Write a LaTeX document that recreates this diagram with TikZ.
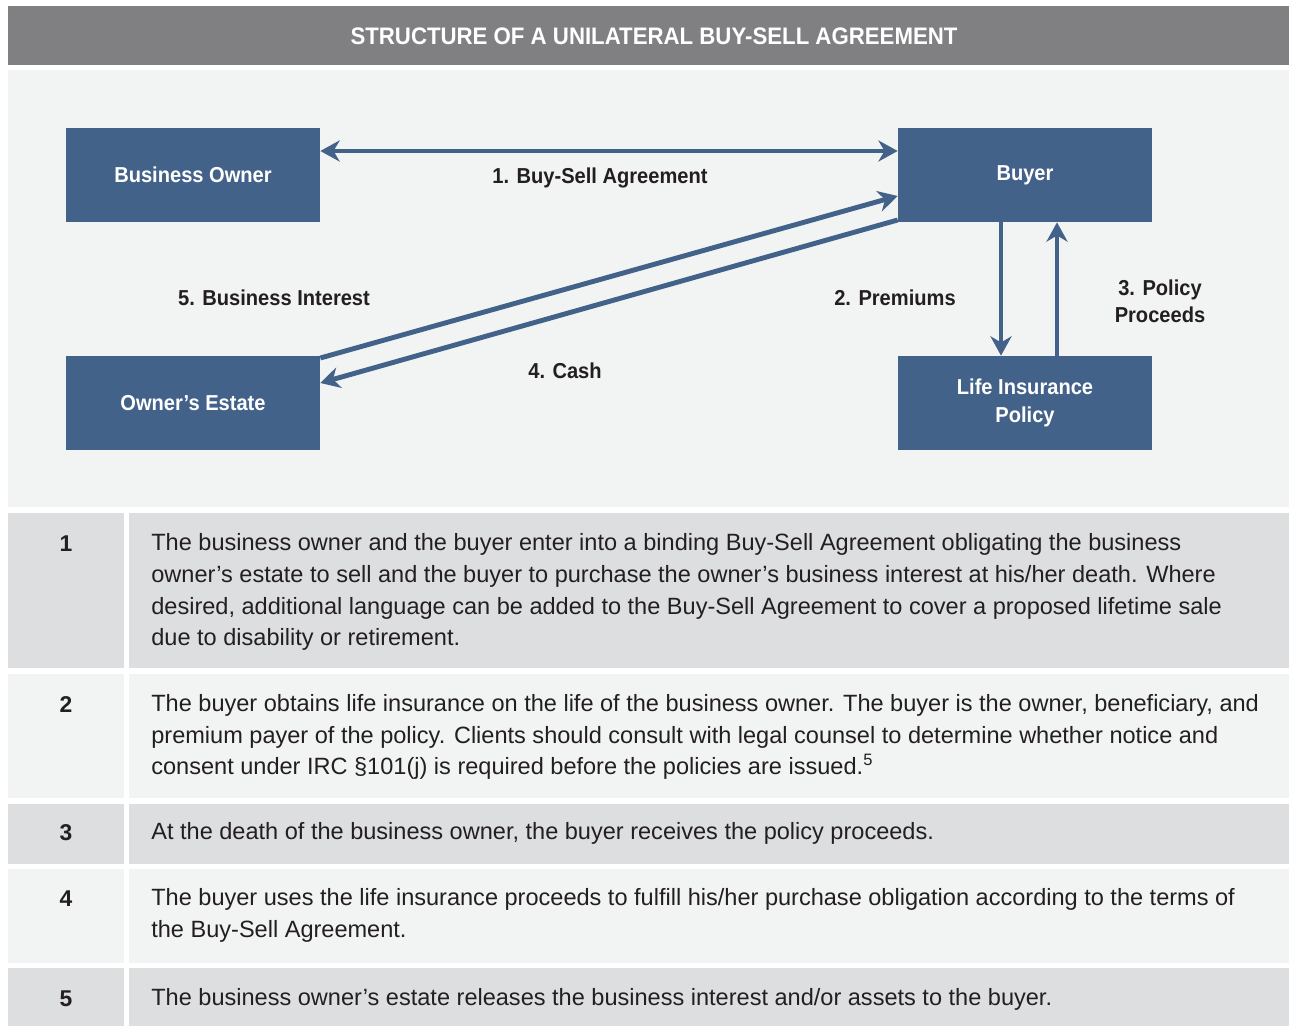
\documentclass[tikz,border=0pt]{standalone}
\usepackage{fontspec}
\setmainfont{Liberation Sans}
\newfontfamily\narrowfont[FakeStretch=0.93]{Liberation Sans}
\usetikzlibrary{calc}
\usetikzlibrary{arrows.meta}
\definecolor{headgray}{RGB}{128,128,130}
\definecolor{panelgray}{RGB}{242,244,243}
\definecolor{boxblue}{RGB}{67,98,138}
\definecolor{rowdark}{RGB}{221,222,224}
\definecolor{rowlight}{RGB}{242,243,243}
\definecolor{inkblack}{RGB}{35,31,32}
\tikzset{
    >={Stealth[length=11pt, width=12pt, inset=3.5pt]},
    box/.style={fill=boxblue, minimum width=5.08cm, minimum height=1.88cm, inner sep=0pt, text=white, align=center, font=\narrowfont\bfseries\fontsize{12.3}{16.4}\selectfont},
    flow/.style={draw=boxblue, line width=2.8pt, ->},
    lbl/.style={text=inkblack, align=center, inner sep=0pt, font=\narrowfont\bfseries\fontsize{12.3}{15.3}\selectfont},
    num/.style={text=inkblack, inner sep=0pt, font=\bfseries\fontsize{13}{18}\selectfont},
    desc/.style={text=inkblack, anchor=west, align=left, inner sep=0pt, font=\fontsize{13.4}{18.14}\selectfont}
}
\begin{document}
\begin{tikzpicture}[x=0.02cm, y=-0.02cm]
        \useasboundingbox (0,0) rectangle (1290,1026);
        %HEADER
        \fill[headgray] (8,6) rectangle (1289,65);
        \node[text=white, font=\narrowfont\bfseries\fontsize{13.6}{16}\selectfont] (title) at (654,36) {STRUCTURE OF A UNILATERAL BUY-SELL AGREEMENT};
        %PANEL
        \fill[panelgray] (8,70) rectangle (1289,507);
        %KOORDINAT
        \coordinate (agree) at (0,151);
        \coordinate (interest) at (0,358);
        \coordinate (interestend) at (0,196);
        \coordinate (cash) at (0,220);
        \coordinate (cashend) at (0,383);
        \coordinate (prem) at (1001,0);
        \coordinate (proc) at (1057,0);
        %BOXES
        \node[box] (owner) at (193,175) {Business Owner};
        \node[box] (buyer) at (1025,175) {Buyer};
        \node[box] (estate) at (193,403) {Owner’s Estate};
        \node[box] (policy) at (1025,403) {Life Insurance\\Policy};
        %ARROWS
        \draw[flow, <->] (owner.east |- agree) -- (buyer.west |- agree);
        \draw[flow] (estate.east |- interest) -- (buyer.west |- interestend);
        \draw[flow] (buyer.west |- cash) -- (estate.east |- cashend);
        \draw[flow] (buyer.south -| prem) -- (policy.north -| prem);
        \draw[flow] (policy.north -| proc) -- (buyer.south -| proc);
        %LABELS
        \node[lbl] (agreelbl) at (600,178) {1. Buy-Sell Agreement};
        \node[lbl] (premlbl) at (895,298) {2. Premiums};
        \node[lbl] (proclbl) at (1160,301) {3. Policy\\Proceeds};
        \node[lbl] (cashlbl) at (565,371) {4. Cash};
        \node[lbl] (interestlbl) at (274,298) {5. Business Interest};
        %TABLE
        \foreach \top/\bot/\col in {513/668/rowdark, 674/798/rowlight, 804/864/rowdark, 869/963/rowlight, 968/1026/rowdark}{
            \fill[\col] (8,\top) rectangle (124,\bot);
            \fill[\col] (129,\top) rectangle (1289,\bot);
        }
        \node[num] (n1) at (66,544) {1};
        \node[num] (n2) at (66,705) {2};
        \node[num] (n3) at (66,833) {3};
        \node[num] (n4) at (66,899) {4};
        \node[num] (n5) at (66,999) {5};
        \node[desc] (t1) at (151,592) {The business owner and the buyer enter into a binding Buy-Sell Agreement obligating the business\\owner’s estate to sell and the buyer to purchase the owner’s business interest at his/her death. Where\\desired, additional language can be added to the Buy-Sell Agreement to cover a proposed lifetime sale\\due to disability or retirement.};
        \node[desc] (t2) at (151,737) {The buyer obtains life insurance on the life of the business owner. The buyer is the owner, beneficiary, and\\premium payer of the policy. Clients should consult with legal counsel to determine whether notice and\\consent under IRC §101(j) is required before the policies are issued.\textsuperscript{5}};
        \node[desc] (t3) at (151,833) {At the death of the business owner, the buyer receives the policy proceeds.};
        \node[desc] (t4) at (151,915) {The buyer uses the life insurance proceeds to fulfill his/her purchase obligation according to the terms of\\the Buy-Sell Agreement.};
        \node[desc] (t5) at (151,999) {The business owner’s estate releases the business interest and/or assets to the buyer.};
    \end{tikzpicture}
\end{document}
